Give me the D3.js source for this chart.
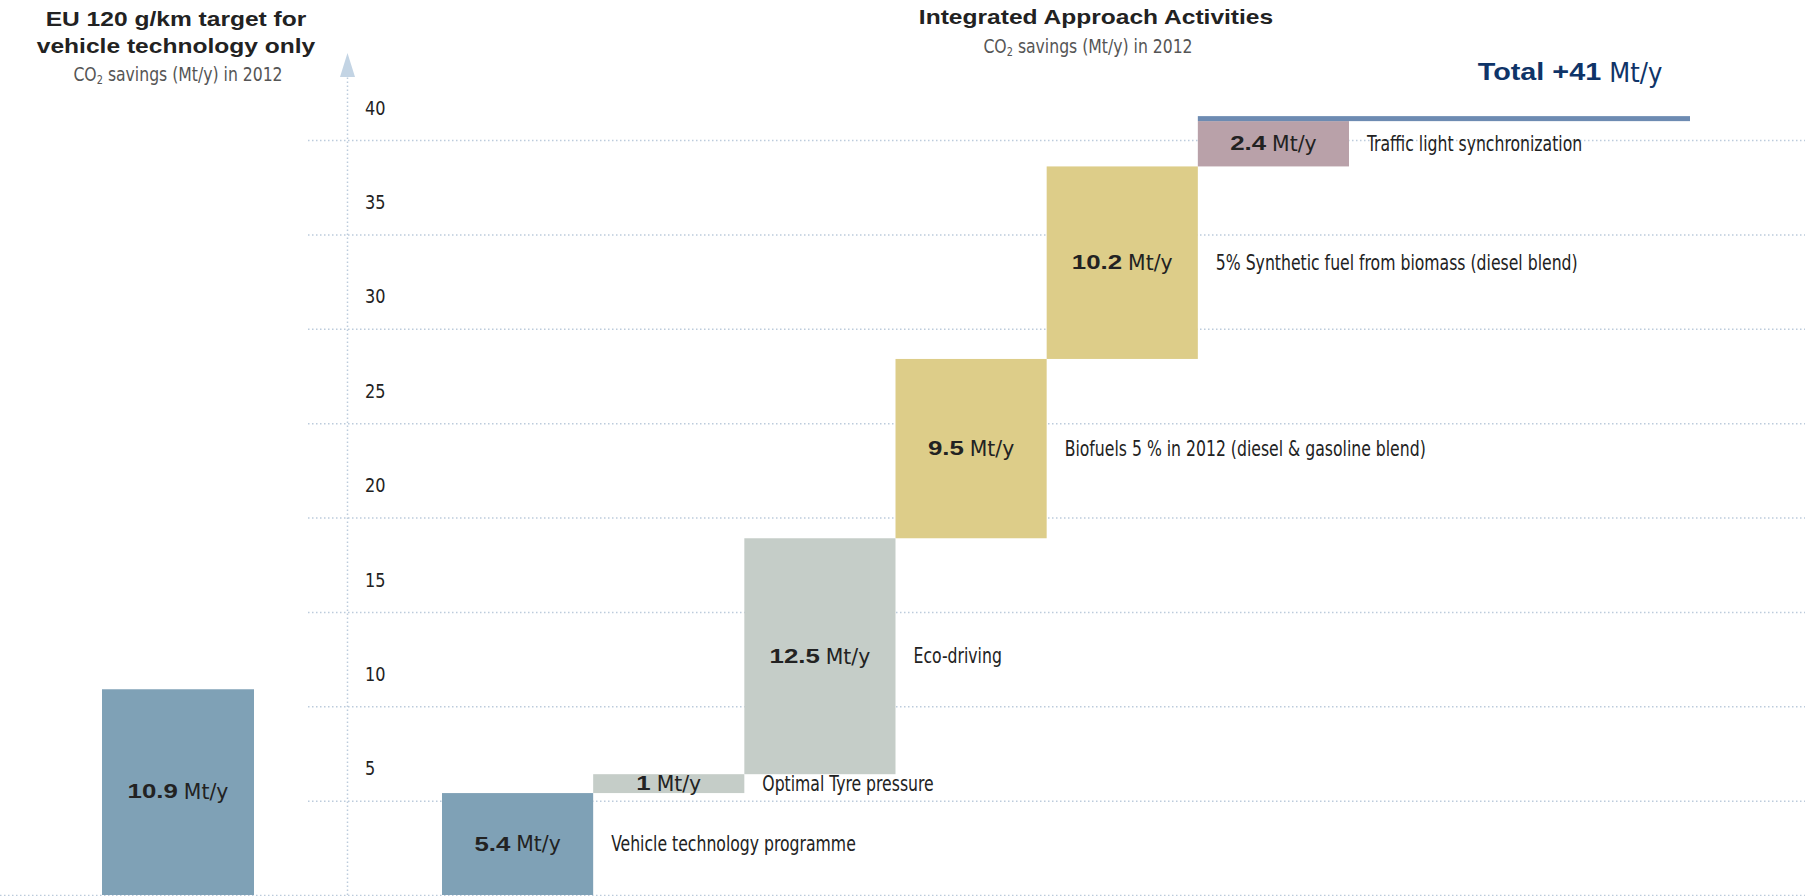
<!DOCTYPE html>
<html>
<head>
<meta charset="utf-8">
<script src="https://cdn.jsdelivr.net/npm/d3@7"></script>
<style>
  html, body { margin: 0; padding: 0; background: #fff; }
  svg { display: block; }
  .cond { font-family: "Liberation Sans Narrow", "DejaVu Sans Condensed", "Open Sans", sans-serif; }
  .heavy { font-family: "Liberation Sans", Arial, sans-serif; font-weight: bold; }
</style>
</head>
<body>
<svg id="chart" width="1805" height="896"></svg>
<script>
// ---------------- data ----------------
const targetLabel = "EU 120 g/km target";
const targetValue = 10.9;

const categories = [
  "Vehicle technology programme",
  "Optimal Tyre pressure",
  "Eco-driving",
  "Biofuels 5 % in 2012 (diesel & gasoline blend)",
  "5% Synthetic fuel from biomass (diesel blend)",
  "Traffic light synchronization"
];
const values = [5.4, 1, 12.5, 9.5, 10.2, 2.4];
const valueText = ["5.4", "1", "12.5", "9.5", "10.2", "2.4"];
const groups = ["vehicle", "grey", "grey", "bio", "bio", "traffic"];
const yTicks = [5, 10, 15, 20, 25, 30, 35, 40];
const totalValue = 41;

// ---------------- styles ----------------
const colors = { vehicle: "#7fa1b6", grey: "#c5cdc8", bio: "#ddcd89", traffic: "#b9a1a9" };
const gridColor = "#bccbdc";

const svg = d3.select("#chart");
const W = 1805, H = 896;

const y = d3.scaleLinear().domain([0, 40]).range([895, 140]);
const x = d3.scaleBand().domain(categories).range([442, 1349]).paddingInner(0).paddingOuter(0);

// cumulative
let acc = 0;
const rows = categories.map((c, i) => {
  const r = { cat: c, v: values[i], t: valueText[i], g: groups[i], y0: acc, y1: acc + values[i] };
  acc += values[i];
  return r;
});

// helper: horizontally scaled text
function stext(parent, cls, xp, yp, size, sx, str, anchor, fill) {
  const t = parent.append("text")
    .attr("class", cls)
    .attr("transform", `translate(${xp},${yp}) scale(${sx},1)`)
    .attr("text-anchor", anchor || "start")
    .attr("dominant-baseline", "middle")
    .attr("font-size", size).attr("fill", fill || "#222")
    .text(str);
  return t;
}

// composite label: bold number + regular unit, centred at (xc, yc)
function valueLabel(parent, xc, yc, num, opts) {
  const o = Object.assign({ bSize: 21, bSx: 1.23, rSize: 22, rSx: 1.03, gap: 6, fill: "#222", unit: "Mt/y" }, opts || {});
  const g = parent.append("g");
  const b = stext(g, "heavy", 0, yc, o.bSize, o.bSx, num, "start", o.fill);
  const r = stext(g, "cond", 0, yc, o.rSize, o.rSx, o.unit, "start", o.fill);
  const wb = b.node().getComputedTextLength() * o.bSx;
  const wr = r.node().getComputedTextLength() * o.rSx;
  const x0 = xc - (wb + o.gap + wr) / 2;
  b.attr("transform", `translate(${x0},${yc}) scale(${o.bSx},1)`);
  r.attr("transform", `translate(${x0 + wb + o.gap},${yc}) scale(${o.rSx},1)`);
  return g;
}

// grid lines
const grid = svg.append("g");
grid.selectAll("line.g").data(yTicks).join("line")
  .attr("x1", 308).attr("x2", W)
  .attr("y1", d => y(d) + 0.5).attr("y2", d => y(d) + 0.5)
  .attr("stroke", gridColor).attr("stroke-width", 1.5).attr("stroke-dasharray", "1.5,2.5");
grid.append("line")
  .attr("x1", 0).attr("x2", W).attr("y1", y(0) + 0.5).attr("y2", y(0) + 0.5)
  .attr("stroke", gridColor).attr("stroke-width", 1.5).attr("stroke-dasharray", "1.5,2.5");

// vertical axis with arrow
svg.append("line")
  .attr("x1", 347.5).attr("x2", 347.5).attr("y1", y(0)).attr("y2", 76)
  .attr("stroke", gridColor).attr("stroke-width", 1.5).attr("stroke-dasharray", "1.5,2.5");
svg.append("path")
  .attr("d", "M347.5,53 L355,77 L340,77 Z")
  .attr("fill", "#c3d4e4");

// tick labels
const tg = svg.append("g");
yTicks.forEach(v => stext(tg, "cond", 365, y(v) - 31, 19.5, 0.92, String(v), "start", "#222"));

// target bar (left)
const tx0 = 102, tw = 152;
svg.append("rect")
  .attr("x", tx0).attr("width", tw)
  .attr("y", y(targetValue)).attr("height", y(0) - y(targetValue))
  .attr("fill", colors.vehicle);
valueLabel(svg, tx0 + tw / 2, (y(targetValue) + y(0)) / 2, String(targetValue));

// waterfall bars
svg.append("g").selectAll("rect").data(rows).join("rect")
  .attr("x", d => x(d.cat)).attr("width", x.bandwidth())
  .attr("y", d => y(d.y1)).attr("height", d => y(d.y0) - y(d.y1))
  .attr("fill", d => colors[d.g]);

// value labels inside bars + category labels
const lg = svg.append("g");
rows.forEach(d => {
  const ym = (y(d.y0) + y(d.y1)) / 2 + 1;
  valueLabel(lg, x(d.cat) + x.bandwidth() / 2, ym, d.t);
  stext(lg, "cond", x(d.cat) + x.bandwidth() + 18, ym, 20.5, 0.85, d.cat, "start", "#222");
});

// total line
const last = rows[rows.length - 1];
svg.append("rect")
  .attr("x", x(last.cat)).attr("width", 1690 - x(last.cat))
  .attr("y", y(totalValue) - 5).attr("height", 5)
  .attr("fill", "#6d8bb2");

// total label
valueLabel(svg, 1570, 74, "Total +" + totalValue,
  { bSize: 24, bSx: 1.2, rSize: 27, rSx: 1.0, gap: 8, fill: "#0f3468" });

// titles
function subtitle(xc, yc) {
  const s = svg.append("text").attr("class", "cond")
    .attr("transform", `translate(${xc},${yc}) scale(0.87,1)`)
    .attr("text-anchor", "middle").attr("dominant-baseline", "middle")
    .attr("font-size", 20).attr("fill", "#555");
  s.append("tspan").text("CO");
  s.append("tspan").attr("font-size", 12.5).attr("dy", 5).text("2");
  s.append("tspan").attr("dy", -5).text(" savings (Mt/y) in 2012");
}
stext(svg, "heavy", 176, 21, 19.5, 1.26, targetLabel + " for", "middle", "#222");
stext(svg, "heavy", 176, 48, 19.5, 1.26, "vehicle technology only", "middle", "#222");
subtitle(178, 75);

stext(svg, "heavy", 1096, 19, 19.5, 1.26, "Integrated Approach Activities", "middle", "#222");
subtitle(1088, 47);
</script>
</body>
</html>
